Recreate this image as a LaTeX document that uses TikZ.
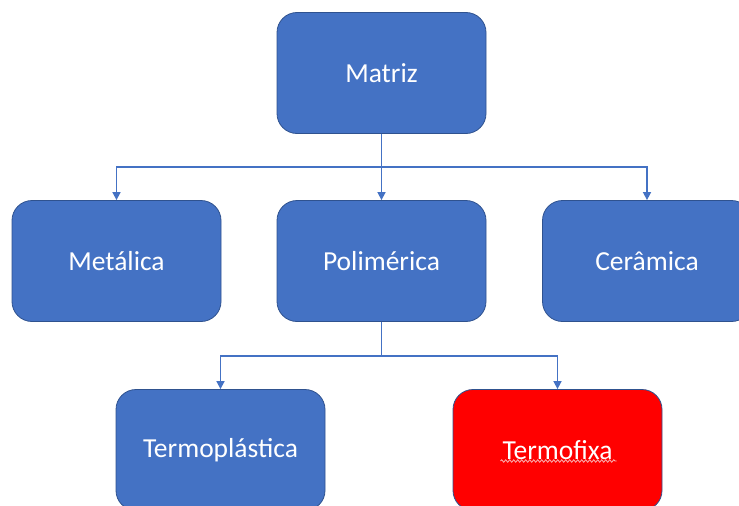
\documentclass[tikz,border=0pt]{standalone}
\usepackage{fontspec}
\setmainfont{Carlito}
\usetikzlibrary{arrows.meta,calc,decorations.pathmorphing}
\definecolor{boxblue}{HTML}{4472C4}
\definecolor{boxedge}{HTML}{2F528F}
\definecolor{boxred}{HTML}{FF0000}
\definecolor{squiggle}{HTML}{F8B4B4}
\tikzset{
  box/.style={draw=boxedge, line width=0.8pt, fill=boxblue, rounded corners=20pt,
    minimum width=209pt, minimum height=121pt, text=white, inner sep=0pt,
    font=\fontsize{27.5}{31}\selectfont},
  redbox/.style={box, fill=boxred},
  conn/.style={draw=boxblue, line width=1.6pt},
  arr/.style={conn, -{Triangle[length=8pt,width=8pt]}}
}
\begin{document}
\begin{tikzpicture}[x=1pt,y=-1pt]
\useasboundingbox (0,0) rectangle (739,506);
\node[box] (matriz) at (381.5,73) {Matriz};
\node[box] (metalica) at (116.5,261) {Metálica};
\node[box] (polimerica) at (381.5,261) {Polimérica};
\node[box] (ceramica) at (647,261) {Cerâmica};
\node[box] (termoplastica) at (220.5,450) {Termoplástica};
\node[redbox] (termofixa) at (557.5,450) {Termofixa};
\coordinate (j1) at (381.5,167);
\coordinate (j2) at (381.5,356);
\draw[conn] (matriz.south) -- (j1);
\draw[arr] (j1) -| (metalica.north);
\draw[arr] (j1) -- (polimerica.north);
\draw[arr] (j1) -| (ceramica.north);
\draw[conn] (polimerica.south) -- (j2);
\draw[arr] (j2) -| (termoplastica.north);
\draw[arr] (j2) -| (termofixa.north);
\draw[squiggle, line width=0.8pt, decorate, decoration={snake, amplitude=1.2pt, segment length=4pt}]
  ($(termofixa.center)+(-57,11)$) -- ($(termofixa.center)+(59,11)$);
\end{tikzpicture}
\end{document}
